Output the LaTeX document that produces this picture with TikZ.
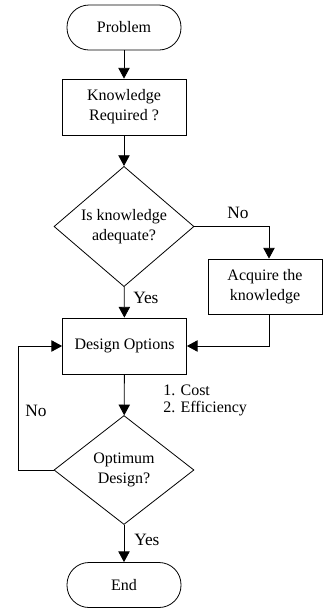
\documentclass[tikz,border=0pt]{standalone}
\usepackage{fontspec}
\setmainfont{Liberation Serif}
\usetikzlibrary{arrows.meta,shapes.geometric,positioning}
\tikzset{
  flow/.style={-{Triangle[length=8pt,width=8.5pt]}, line width=0.6pt},
  txt/.style={font=\fontsize{12}{15}\selectfont},
  terminal/.style={draw, line width=0.6pt, rectangle, rounded corners=16.5pt, minimum width=85.5pt, minimum height=33.75pt, inner sep=0pt, txt},
  process/.style={draw, line width=0.6pt, rectangle, minimum width=93pt, minimum height=42pt, inner sep=0pt, align=center, txt},
  decision/.style={draw, line width=0.6pt, diamond, minimum width=105pt, minimum height=81.75pt, inner sep=0pt, align=center, txt},
  note/.style={inner sep=0pt, txt},
  answer/.style={inner sep=0pt, font=\fontsize{13}{15}\selectfont}
}

\begin{document}
\begin{tikzpicture}[x=0.75pt, y=-0.75pt]
  \useasboundingbox (0,0) rectangle (323,611);
  % boxes
  \node[terminal] (prob) at (124,27.5) {Problem};
  \node[process] (need) at (124,107) {Knowledge\\Required ?};
  \node[decision] (ok) at (124,226.5) {Is knowledge\\adequate?};
  \node[process, minimum width=85.5pt, minimum height=41.25pt] (acq) at (265,286.5) {Acquire the\\knowledge};
  \node[process] (opts) at (124.5,346) {Design Options};
  \node[decision] (best) at (124,470) {Optimum\\Design?};
  \node[terminal] (stop) at (124,585) {End};
  % labels
  \node[answer] (no1) at (238,213) {No};
  \node[answer, anchor=west] (yes1) at (133,298) {Yes};
  \node[note, anchor=west] (cost) at (163,390) {1. Cost};
  \node[note, anchor=west] (eff) at (163,409) {2. Efficiency};
  \node[answer] (no2) at (36,411) {No};
  \node[answer, anchor=west] (yes2) at (134,540) {Yes};
  % connectors
  \draw[flow] (prob) -- (need);
  \draw[flow] (need) -- (ok);
  \draw[flow] (ok) -- (opts);
  \draw[flow] (ok.east) -| ([xshift=3pt]acq.north);
  \draw[flow] ([xshift=3pt]acq.south) |- (opts.east);
  \draw[flow] (opts) -- (best);
  \draw[flow] (best.west) -- ++(-35,0) |- (opts.west);
  \draw[flow] (best) -- (stop);
\end{tikzpicture}
\end{document}
